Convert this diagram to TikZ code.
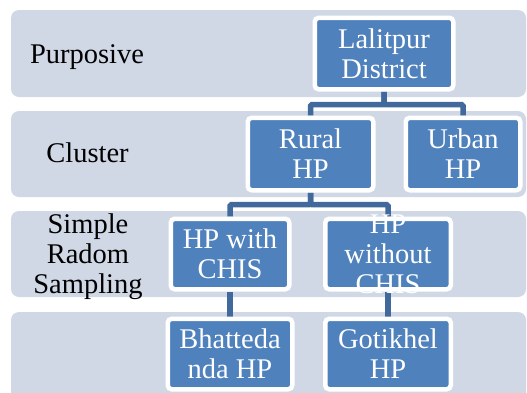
\documentclass[tikz,border=0pt]{standalone}
\usepackage{fontspec}
\setmainfont{Liberation Serif}
\pgfdeclarelayer{bandlayer}
\pgfdeclarelayer{connlayer}
\pgfsetlayers{bandlayer,connlayer,main}
\definecolor{bandgray}{HTML}{D0D7E5}
\definecolor{boxblue}{HTML}{4F81BD}
\definecolor{connblue}{HTML}{41699C}
\begin{document}
\begin{tikzpicture}[x=1pt,y=-1pt,
  hbox/.style={draw=white, line width=4.5pt, fill=boxblue, rounded corners=4pt, inner sep=0pt},
  boxtext/.style={text=white, align=center, font=\rmfamily\fontsize{28.5}{30}\selectfont, inner sep=0pt},
  sidetext/.style={text=black, align=center, font=\rmfamily\fontsize{28.5}{30}\selectfont, inner sep=0pt},
  conn/.style={draw=connblue, line width=5.5pt, rounded corners=1.5pt},
  band/.style={fill=bandgray, rounded corners=8pt, inner sep=0pt, minimum width=515pt}]
\useasboundingbox (0,0) rectangle (527,392);
% boxes
\node[hbox, minimum width=138.5pt, minimum height=71.5pt,
  label={[boxtext]center:{Lalitpur\\District}}] (lal) at (384,53.5) {};
\node[hbox, minimum width=125.5pt, minimum height=72.5pt,
  label={[boxtext]center:{Rural\\HP}}] (rur) at (310.5,154) {};
\node[hbox, minimum width=114.5pt, minimum height=72.5pt,
  label={[boxtext]center:{Urban\\HP}}] (urb) at (463,154) {};
\node[hbox, minimum width=118.5pt, minimum height=70.5pt,
  label={[boxtext]center:{HP with\\CHIS}}] (hpw) at (230,254) {};
\node[hbox, minimum width=125.5pt, minimum height=70.5pt,
  label={[boxtext]center:{HP\\without\\CHIS}}] (hpwo) at (388,254) {};
\node[hbox, minimum width=124.5pt, minimum height=70.5pt,
  label={[boxtext]center:{Bhatteda\\nda HP}}] (bha) at (230,354) {};
\node[hbox, minimum width=125.5pt, minimum height=70.5pt,
  label={[boxtext]center:{Gotikhel\\HP}}] (got) at (388,354) {};
% side labels
\node[sidetext, anchor=base] (l1) at (87,63) {Purposive};
\node[sidetext, anchor=base] (l2) at (87.5,162.7) {Cluster};
\node[sidetext] (l3) at (88,256.5) {Simple\\Radom\\Sampling};
% bands
\begin{pgfonlayer}{bandlayer}
\node[band, minimum height=87pt] (b1) at (268.5,53.5) {};
\node[band, minimum height=86pt] (b2) at (268.5,154) {};
\node[band, minimum height=86pt] (b3) at (268.5,254) {};
\node[band, minimum height=90pt] (b4) at (268.5,357) {};
\end{pgfonlayer}
% connectors
\begin{pgfonlayer}{connlayer}
\draw[conn] (lal.south) -- ++(0,13) -| (rur.north);
\draw[conn] (lal.south) -- ++(0,13) -| (urb.north);
\draw[conn] (rur.south) -- ++(0,12) -| (hpw.north);
\draw[conn] (rur.south) -- ++(0,12) -| (hpwo.north);
\draw[conn] (hpw.south) -- (bha.north);
\draw[conn] (hpwo.south) -- (got.north);
\end{pgfonlayer}
\end{tikzpicture}
\end{document}
